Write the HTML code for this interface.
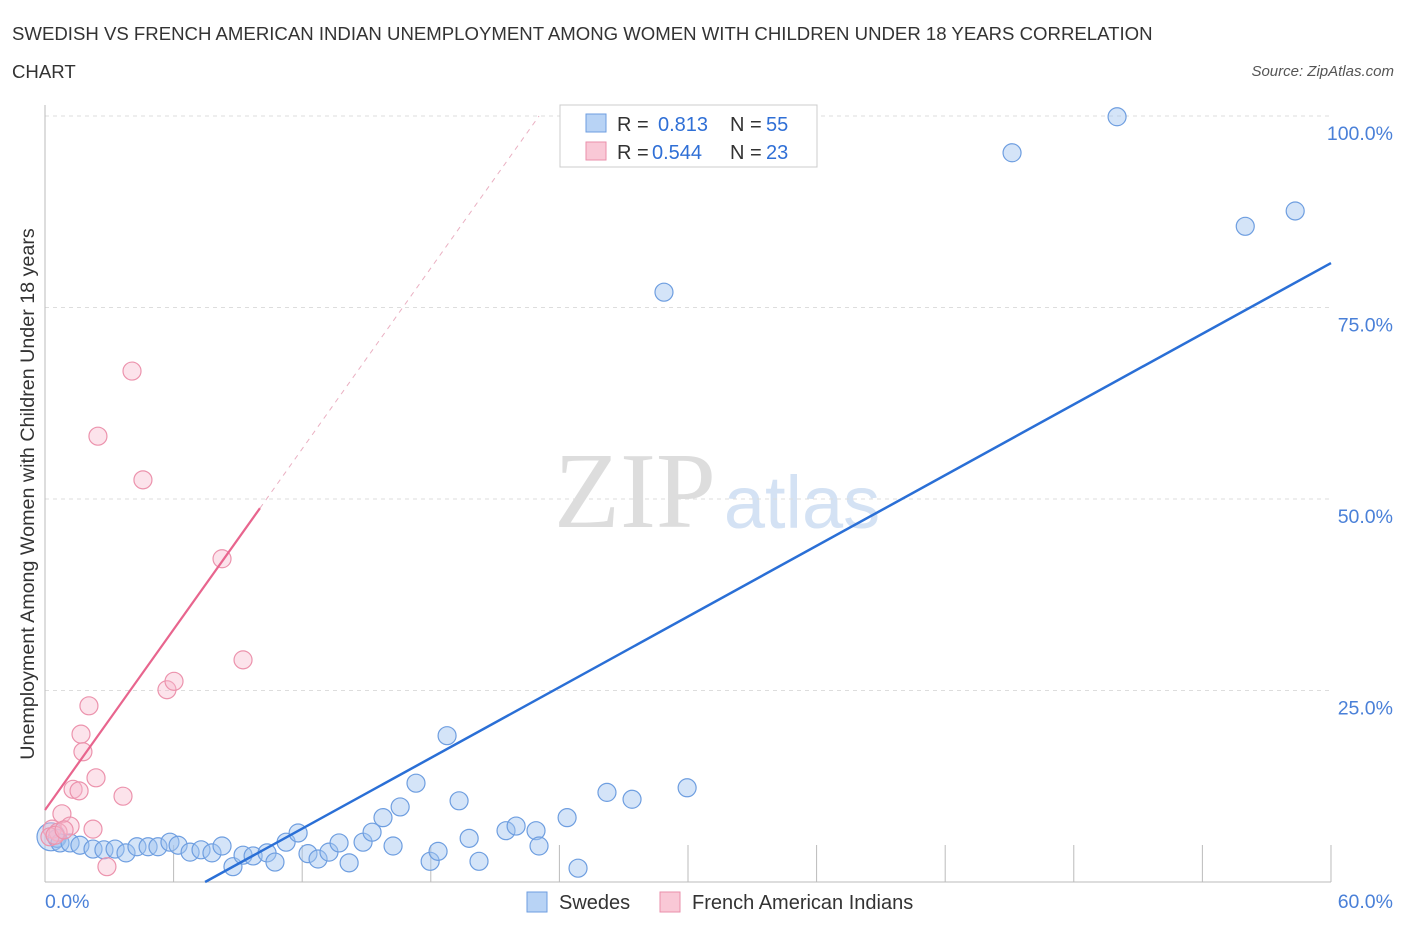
<!DOCTYPE html>
<html><head><meta charset="utf-8"><style>
body{margin:0;background:#fff;font-family:"Liberation Sans",sans-serif}
svg text{font-family:"Liberation Sans",sans-serif}
</style></head><body>
<svg id="c" width="1406" height="930">
<text x="12" y="40" font-size="18.6" fill="#333">SWEDISH VS FRENCH AMERICAN INDIAN UNEMPLOYMENT AMONG WOMEN WITH CHILDREN UNDER 18 YEARS CORRELATION</text>
<text x="12" y="78" font-size="18.6" fill="#333">CHART</text>
<text x="1394" y="76" font-size="15" fill="#555" font-style="italic" text-anchor="end">Source: ZipAtlas.com</text>
<text x="635" y="527" font-size="108" fill="#ddd" text-anchor="middle" style="font-family:'Liberation Serif',serif">ZIP</text>
<text x="802" y="528" font-size="74" fill="#d4e2f4" text-anchor="middle">atlas</text>
<text transform="translate(34,494) rotate(-90)" font-size="19.7" fill="#333" text-anchor="middle">Unemployment Among Women with Children Under 18 years</text>
<g id="grid"></g><g id="pts"></g><g id="lines"></g>
<g>
<rect x="560" y="105" width="257" height="62" fill="#fff" stroke="#ccc"/>
<rect x="586" y="114" width="20" height="18" fill="#b8d3f5" stroke="#6e9ee0"/>
<text x="617" y="131" font-size="20" fill="#333">R = </text><text x="658" y="131" font-size="20" fill="#2f6fd6">0.813</text>
<text x="730" y="131" font-size="20" fill="#333">N = </text><text x="766" y="131" font-size="20" fill="#2f6fd6">55</text>
<rect x="586" y="142" width="20" height="18" fill="#f9c8d6" stroke="#ea8fab"/>
<text x="617" y="159" font-size="20" fill="#333">R = </text><text x="652" y="159" font-size="20" fill="#2f6fd6">0.544</text>
<text x="730" y="159" font-size="20" fill="#333">N = </text><text x="766" y="159" font-size="20" fill="#2f6fd6">23</text>
</g>
<g>
<rect x="527" y="892" width="20" height="20" fill="#b8d3f5" stroke="#6e9ee0"/>
<text x="559" y="909" font-size="20" fill="#333">Swedes</text>
<rect x="660" y="892" width="20" height="20" fill="#f9c8d6" stroke="#ea8fab"/>
<text x="692" y="909" font-size="20" fill="#333">French American Indians</text>
</g>
</svg>
<script>
const xTicks=[0,6,12,18,24,30,36,42,48,54,60];
const yTicks=[25,50,75,100];
const yTickLabels=["25.0%","50.0%","75.0%","100.0%"];
const blueX=[0.28,0.56,0.7,1.17,1.63,2.24,2.75,3.27,3.78,4.29,4.81,5.27,5.83,6.21,6.77,7.28,7.79,8.26,8.77,9.24,9.71,10.36,10.73,11.25,11.81,12.27,12.74,13.25,13.72,14.19,14.84,15.26,15.77,16.57,16.24,17.31,18.76,19.32,17.97,18.34,19.79,20.25,21.51,21.98,22.91,23.05,24.36,24.87,26.22,27.39,29.96,28.88,45.12,50.02,56.0,58.33];
const blueY=[5.9,5.7,5.1,5.1,4.8,4.3,4.2,4.3,3.8,4.6,4.6,4.6,5.2,4.8,3.9,4.2,3.8,4.7,2.0,3.5,3.4,3.8,2.6,5.2,6.4,3.7,3.0,3.9,5.1,2.5,5.2,6.5,8.4,9.8,4.7,12.9,19.1,10.6,2.7,4.0,5.7,2.7,6.7,7.3,6.7,4.7,8.4,1.8,11.7,10.8,12.3,77.0,95.2,99.9,85.6,87.6];
const pinkX=[2.05,1.68,1.77,2.38,1.31,1.59,3.64,0.79,2.24,1.17,0.33,0.61,0.23,2.89,5.69,6.02,4.06,2.47,4.57,8.26,9.24,0.47,0.89];
const pinkY=[23.0,19.3,17.0,13.6,12.1,11.9,11.2,8.9,6.9,7.3,6.9,6.5,5.9,2.0,25.1,26.2,66.7,58.2,52.5,42.2,29.0,6.1,6.8];
const blueLine=[[7.47,0],[60,80.8]];
const pinkSolid=[[0,9.4],[10.03,48.8]];
const pinkDash=[[10.03,48.8],[23.05,100]];
const X=v=>45+v*21.433, Y=v=>882-v*7.66;
const NS="http://www.w3.org/2000/svg";
function mk(t,a,p){const e=document.createElementNS(NS,t);for(const k in a)e.setAttribute(k,a[k]);p.appendChild(e);return e;}
const g=document.getElementById('grid');
yTicks.forEach((t,i)=>{
 const l=mk('line',{x1:45,x2:1331,y1:Y(t),y2:Y(t),stroke:'#ddd','stroke-dasharray':'4,4'},g);
 
 
 const tx=mk('text',{x:1393,y:Y(t)+24,'font-size':19.5,fill:'#4a80d8','text-anchor':'end'},g);
 tx.textContent=yTickLabels[i];
 
 
});
mk('line',{x1:45,x2:45,y1:105,y2:882,stroke:'#bbb'},g);
mk('line',{x1:45,x2:1331,y1:882,y2:882,stroke:'#bbb'},g);
xTicks.slice(1).forEach(t=>{
 const l=mk('line',{x1:X(t),x2:X(t),y1:845,y2:882,stroke:'#bbb'},g);
 
 
});
const t0=mk('text',{x:45,y:908,'font-size':19.5,fill:'#4a80d8'},g);t0.textContent='0.0%';


const t1=mk('text',{x:1393,y:908,'font-size':19.5,fill:'#4a80d8','text-anchor':'end'},g);t1.textContent='60.0%';


const p=document.getElementById('pts');
blueX.forEach((v,i)=>{
 const c=mk('circle',{cx:X(v),cy:Y(blueY[i]),r:i==0?14:9,fill:'rgba(160,196,240,0.45)',stroke:'#6e9ee0','stroke-width':1.2},p);
 
 
});
pinkX.forEach((v,i)=>{
 const c=mk('circle',{cx:X(v),cy:Y(pinkY[i]),r:9,fill:'rgba(248,185,205,0.4)',stroke:'#ec93ad','stroke-width':1.2},p);
 
 
});
const L=document.getElementById('lines');
function line(pts,st){return mk('line',Object.assign({x1:X(pts[0][0]),y1:Y(pts[0][1]),x2:X(pts[1][0]),y2:Y(pts[1][1])},st),L);}
const bl=line(blueLine,{stroke:'#2a6fd6','stroke-width':2.5});


const ps=line(pinkSolid,{stroke:'#e8658e','stroke-width':2.2});


const pd=line(pinkDash,{stroke:'#eab0c2','stroke-width':1,'stroke-dasharray':'5,5'});


</script>
</body></html>
